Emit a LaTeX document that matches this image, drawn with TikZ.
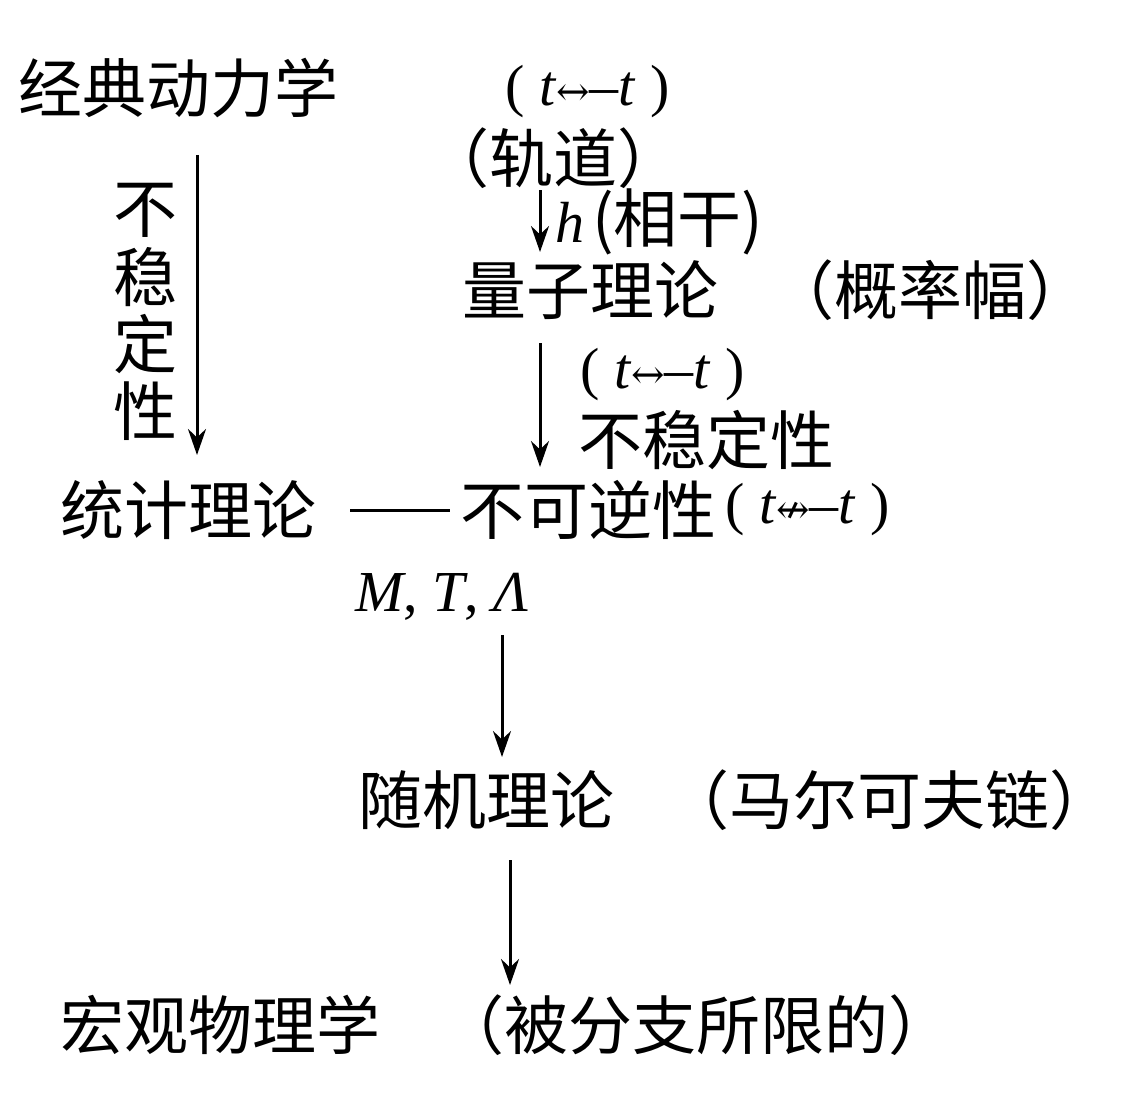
\documentclass[tikz,border=0pt]{standalone}
\usepackage{fontspec}
\newfontfamily\cjk{Noto Sans CJK SC}
\newfontfamily\tms{Liberation Serif}
\newfontfamily\dvs{DejaVu Serif}
\usetikzlibrary{arrows.meta}
\newcommand{\lra}{{\dvs\fontsize{40}{42}\selectfont ↔}}
\newcommand{\nlra}{{\dvs\fontsize{40}{42}\selectfont ↮}}
\begin{document}
\begin{tikzpicture}[x=1pt,y=-1pt,
  t/.style={anchor=west,inner sep=0pt,font=\cjk\fontsize{64}{66}\selectfont},
  m/.style={anchor=west,inner sep=0pt,font=\tms\fontsize{58}{60}\selectfont},
  arr/.style={line width=3pt,-{Stealth[length=26,width=18]}}]
\useasboundingbox (0,0) rectangle (1134,1110);
\node[t] (cd) at (18,88) {经典动力学};
\node[m] (r1) at (505,92) {( \textit{t}\lra\textit{–t} )};
\node[t] (gd) at (425,158) {（轨道）};
\node[m] (h) at (555,222) {\textit{h}};
\node[t] (xg) at (592,222) {(相干)};
\node[t] (lz) at (462,290) {量子理论};
\node[t] (gl) at (770,290) {（概率幅）};
\node[m] (r2) at (580,375) {( \textit{t}\lra\textit{–t} )};
\node[t] (bw) at (578,440) {不稳定性};
\foreach \c/\y [count=\i] in {不/210,稳/277,定/344,性/411}
  \node[t,anchor=center] (v\i) at (145,\y) {\c};
\node[t] (tj) at (60,510) {统计理论};
\node[t] (bk) at (460,510) {不可逆性};
\node[m] (r3) at (725,510) {( \textit{t}\nlra\textit{–t} )};
\node[m] (mt) at (355,597) {\textit{M}, \textit{T}, \textit{Λ}};
\node[t] (sj) at (358,800) {随机理论};
\node[t] (me) at (665,800) {（马尔可夫链）};
\node[t] (hg) at (60,1025) {宏观物理学};
\node[t] (bf) at (440,1025) {（被分支所限的）};
\coordinate (a1) at (197,155); \coordinate (a2) at (197,455);
\draw[arr] (a1) -- (a2);
\coordinate (b1) at (540,190); \coordinate (b2) at (540,252);
\draw[arr] (b1) -- (b2);
\coordinate (c1) at (540,343); \coordinate (c2) at (540,467);
\draw[arr] (c1) -- (c2);
\coordinate (l1) at (350,510);
\draw[line width=3pt] (l1) -- ([xshift=-10]bk.west);
\coordinate (d1) at (502,635); \coordinate (d2) at (502,757);
\draw[arr] (d1) -- (d2);
\coordinate (e1) at (510,860); \coordinate (e2) at (510,985);
\draw[arr] (e1) -- (e2);
\end{tikzpicture}
\end{document}
